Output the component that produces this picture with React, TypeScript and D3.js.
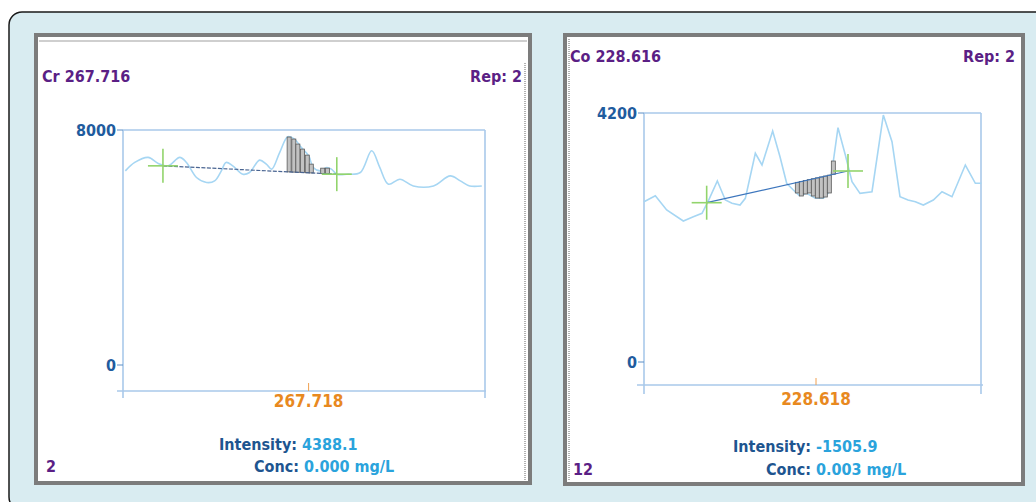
import React, { useRef, useEffect } from 'react';
import * as d3 from 'd3';

// Cr 267.716 scan (wavelength nm, intensity)
const crWavelengths = [267.6907, 267.6921, 267.6941, 267.6956, 267.6971, 267.6988, 267.6998, 267.7013, 267.7028, 267.7040, 267.7050, 267.7057, 267.7067, 267.7082, 267.7092, 267.7107, 267.7117, 267.7125, 267.7137, 267.7149, 267.7159, 267.7169, 267.7180, 267.7187, 267.7197, 267.7207, 267.7214, 267.7222, 267.7237, 267.7257, 267.7274, 267.7286, 267.7299, 267.7316, 267.7336, 267.7366, 267.7391, 267.7406, 267.7420, 267.7438];
const crIntensities = [6609, 6896, 7067, 6862, 6780, 7067, 6896, 6383, 6212, 6267, 6609, 6896, 6780, 6496, 6554, 6975, 6838, 6667, 7238, 7771, 7692, 7409, 7122, 6725, 6609, 6725, 6667, 6496, 6496, 6554, 7293, 6725, 6154, 6325, 6096, 6096, 6438, 6267, 6096, 6096];
const crBaselineWavelengths = [267.6963, 267.7222];
const crBaselineIntensities = [6780, 6496];
const crBarWavelengths = [267.7151, 267.7158, 267.7164, 267.7171, 267.7178, 267.7184, 267.7201, 267.7208];
const crBarIntensities = [7761, 7692, 7521, 7350, 7145, 6838, 6701, 6701];

// Co 228.616 scan
const coWavelengths = [228.5922, 228.5939, 228.5956, 228.5981, 228.5996, 228.6009, 228.6018, 228.6032, 228.6044, 228.6054, 228.6066, 228.6074, 228.6089, 228.6099, 228.6115, 228.6126, 228.6136, 228.6146, 228.6155, 228.6166, 228.6179, 228.6191, 228.6198, 228.6206, 228.6213, 228.6224, 228.6234, 228.6246, 228.6264, 228.6281, 228.6294, 228.6306, 228.6318, 228.6329, 228.6341, 228.6356, 228.6369, 228.6384, 228.6404, 228.6419, 228.6428];
const coIntensities = [2704, 2805, 2564, 2378, 2451, 2508, 2704, 3053, 2732, 2677, 2648, 2761, 3520, 3323, 3896, 3463, 3014, 2901, 2805, 2845, 2761, 2761, 2845, 3390, 3952, 3491, 3041, 2845, 2873, 4166, 3716, 2788, 2732, 2704, 2648, 2732, 2873, 2788, 3323, 3014, 3014];
const coBaselineWavelengths = [228.6016, 228.6228];
const coBaselineIntensities = [2687, 3222];
const coBarWavelengths = [228.6152, 228.6158, 228.6164, 228.6170, 228.6176, 228.6182, 228.6188, 228.6194, 228.6200, 228.6206];
const coBarIntensities = [2851, 2800, 2834, 2851, 2800, 2766, 2766, 2783, 2851, 3390];

// labels
const panelTitles = ['Cr 267.716', 'Co 228.616'];
const repLabels = ['Rep: 2', 'Rep: 2'];
const yMaxValues = [8000, 4200];
const centerWavelengths = [267.718, 228.618];
const wavelengthDomains: [number, number][] = [[267.69035, 267.74428], [228.5922, 228.64275]];
const intensityLabels = ['4388.1', '-1505.9'];
const concLabels = ['0.000 mg/L', '0.003 mg/L'];
const sampleLabels = ['2', '12'];

const FONT = "'DejaVu Sans Condensed', 'DejaVu Sans', sans-serif";

interface PanelLayout {
  frame: [number, number, number, number];
  plot: [number, number, number, number]; // left, right, top, zero
  axisY: number;
  axisX: [number, number];
  tickEnd: number;
  titleX: number;
  titleY: number;
  repX: number;
  yLabelX: number;
  centerTickTop: number;
  centerLabelY: number;
  intensityX: number;
  intensityY: number;
  concX: number;
  concY: number;
  sampleX: number;
  innerTop: boolean;
  dottedX: number;
  smooth: boolean;
  dashedBaseline: boolean;
}

interface Panel {
  title: string;
  rep: string;
  yMax: number;
  center: number;
  domain: [number, number];
  intensity: string;
  conc: string;
  sample: string;
  wavelengths: number[];
  intensities: number[];
  baseWl: number[];
  baseInt: number[];
  barWl: number[];
  barInt: number[];
  layout: PanelLayout;
}

const panels: Panel[] = [
  {
    title: panelTitles[0], rep: repLabels[0], yMax: yMaxValues[0], center: centerWavelengths[0],
    domain: wavelengthDomains[0], intensity: intensityLabels[0], conc: concLabels[0], sample: sampleLabels[0],
    wavelengths: crWavelengths, intensities: crIntensities,
    baseWl: crBaselineWavelengths, baseInt: crBaselineIntensities,
    barWl: crBarWavelengths, barInt: crBarIntensities,
    layout: {
      frame: [36, 35, 530, 483], plot: [123, 485, 130, 365], axisY: 391, axisX: [117, 486], tickEnd: 398,
      titleX: 42, titleY: 82, repX: 522, yLabelX: 116, centerTickTop: 383, centerLabelY: 407,
      intensityX: 219, intensityY: 450, concX: 254, concY: 472, sampleX: 46,
      innerTop: true, dottedX: 525, smooth: true, dashedBaseline: true,
    },
  },
  {
    title: panelTitles[1], rep: repLabels[1], yMax: yMaxValues[1], center: centerWavelengths[1],
    domain: wavelengthDomains[1], intensity: intensityLabels[1], conc: concLabels[1], sample: sampleLabels[1],
    wavelengths: coWavelengths, intensities: coIntensities,
    baseWl: coBaselineWavelengths, baseInt: coBaselineIntensities,
    barWl: coBarWavelengths, barInt: coBarIntensities,
    layout: {
      frame: [565, 35, 1023, 484], plot: [644, 981, 113, 362], axisY: 385, axisX: [637, 983], tickEnd: 394,
      titleX: 570, titleY: 62, repX: 1015, yLabelX: 637, centerTickTop: 378, centerLabelY: 405,
      intensityX: 733, intensityY: 452, concX: 766, concY: 475, sampleX: 573,
      innerTop: false, dottedX: 569, smooth: false, dashedBaseline: false,
    },
  },
];

const drawPanel = (svg: d3.Selection<SVGSVGElement, unknown, null, undefined>, p: Panel) => {
  const L = p.layout;
  const g = svg.append('g');

  // panel frame
  g.append('rect')
    .attr('x', L.frame[0]).attr('y', L.frame[1])
    .attr('width', L.frame[2] - L.frame[0]).attr('height', L.frame[3] - L.frame[1])
    .attr('fill', '#fff').attr('stroke', '#7c7c7c').attr('stroke-width', 4);
  if (L.innerTop) {
    g.append('line').attr('x1', L.frame[0] + 3).attr('x2', L.frame[2] - 3)
      .attr('y1', L.frame[1] + 6).attr('y2', L.frame[1] + 6)
      .attr('stroke', '#cfcfcf').attr('stroke-width', 2);
  }
  g.append('line').attr('x1', L.dottedX).attr('x2', L.dottedX)
    .attr('y1', L.innerTop ? L.frame[1] + 28 : L.frame[1] + 4).attr('y2', L.frame[3] - 3)
    .attr('stroke', '#9a9a9a').attr('stroke-width', 1.5).attr('stroke-dasharray', '1,1');

  const x = d3.scaleLinear().domain(p.domain).range([L.plot[0], L.plot[1]]);
  const y = d3.scaleLinear().domain([0, p.yMax]).range([L.plot[3], L.plot[2]]);
  const frameColor = '#a9c9ea';

  // plot frame
  g.append('line').attr('x1', x(p.domain[0])).attr('x2', x(p.domain[1]))
    .attr('y1', y(p.yMax)).attr('y2', y(p.yMax)).attr('stroke', frameColor).attr('stroke-width', 1.6);
  [p.domain[0], p.domain[1]].forEach(d => {
    g.append('line').attr('x1', x(d)).attr('x2', x(d))
      .attr('y1', y(p.yMax)).attr('y2', L.tickEnd).attr('stroke', frameColor).attr('stroke-width', 1.6);
  });
  g.append('line').attr('x1', L.axisX[0]).attr('x2', L.axisX[1])
    .attr('y1', L.axisY).attr('y2', L.axisY).attr('stroke', frameColor).attr('stroke-width', 1.6);

  // y ticks
  [0, p.yMax].forEach(v => {
    g.append('line').attr('x1', L.yLabelX + 1).attr('x2', x(p.domain[0]))
      .attr('y1', y(v)).attr('y2', y(v)).attr('stroke', '#5b8ec6').attr('stroke-width', 1);
    g.append('text').attr('x', L.yLabelX).attr('y', y(v) + 6)
      .attr('text-anchor', 'end').attr('fill', '#1f5c9e')
      .attr('font-family', FONT).attr('font-weight', 'bold').attr('font-size', 16)
      .text(String(v));
  });

  // center wavelength tick
  g.append('line').attr('x1', x(p.center)).attr('x2', x(p.center))
    .attr('y1', L.centerTickTop).attr('y2', L.axisY).attr('stroke', '#f0a050').attr('stroke-width', 1);
  g.append('text').attr('x', x(p.center)).attr('y', L.centerLabelY)
    .attr('text-anchor', 'middle').attr('fill', '#e8891f')
    .attr('font-family', FONT).attr('font-weight', 'bold').attr('font-size', 17)
    .text(p.center.toFixed(3));

  // spectrum
  const pts = p.wavelengths.map((w, i) => [w, p.intensities[i]] as [number, number]);
  const line = d3.line<[number, number]>()
    .x(d => x(d[0])).y(d => y(d[1]))
    .curve(L.smooth ? d3.curveCatmullRom.alpha(0.5) : d3.curveLinear);
  g.append('path').datum(pts).attr('d', line)
    .attr('fill', 'none').attr('stroke', '#a6d6f3').attr('stroke-width', 1.6);

  // integration bars between baseline and spectrum
  const base = d3.scaleLinear().domain(p.baseWl).range(p.baseInt);
  const spacing = d3.min(d3.pairs(p.barWl), ([a, b]) => b - a) ?? 0.0005;
  const bw = x(p.domain[0] + spacing) - x(p.domain[0]);
  p.barWl.forEach((w, i) => {
    const y0 = y(base(w));
    const y1 = y(p.barInt[i]);
    g.append('rect')
      .attr('x', x(w) - bw / 2).attr('width', bw)
      .attr('y', Math.min(y0, y1)).attr('height', Math.abs(y1 - y0))
      .attr('fill', '#c2c2c2').attr('stroke', '#5a5a5a').attr('stroke-width', 0.8);
  });

  // baseline
  g.append('line')
    .attr('x1', x(p.baseWl[0])).attr('y1', y(p.baseInt[0]))
    .attr('x2', x(p.baseWl[1])).attr('y2', y(p.baseInt[1]))
    .attr('stroke', L.dashedBaseline ? '#4a6592' : '#3d76bd')
    .attr('stroke-width', 1.2)
    .attr('stroke-dasharray', L.dashedBaseline ? '4,1.5' : null);

  // background correction markers
  p.baseWl.forEach((w, i) => {
    const cx = x(w);
    const cy = y(p.baseInt[i]);
    g.append('line').attr('x1', cx - 15).attr('x2', cx + 15).attr('y1', cy).attr('y2', cy)
      .attr('stroke', '#92d46c').attr('stroke-width', 1.6);
    g.append('line').attr('x1', cx).attr('x2', cx).attr('y1', cy - 17).attr('y2', cy + 17)
      .attr('stroke', '#92d46c').attr('stroke-width', 1.6);
  });

  // texts
  const txt = (tx: number, ty: number, anchor = 'start') => g.append('text')
    .attr('x', tx).attr('y', ty).attr('text-anchor', anchor)
    .attr('font-family', FONT).attr('font-weight', 'bold').attr('font-size', 16);

  txt(L.titleX, L.titleY).attr('fill', '#5b1f85').text(p.title);
  txt(L.repX, L.titleY, 'end').attr('fill', '#5b1f85').text(p.rep);

  const inten = txt(L.intensityX, L.intensityY);
  inten.append('tspan').attr('fill', '#1e5590').text('Intensity: ');
  inten.append('tspan').attr('fill', '#2aa3dc').text(p.intensity);

  const conc = txt(L.concX, L.concY);
  conc.append('tspan').attr('fill', '#1e5590').text('Conc: ');
  conc.append('tspan').attr('fill', '#2aa3dc').text(p.conc);

  txt(L.sampleX, L.concY).attr('fill', '#5b1f85').text(p.sample);
};

const App: React.FC = () => {
  const container = useRef<SVGSVGElement | null>(null);

  useEffect(() => {
    if (!container.current) return;
    const svg = d3.select(container.current);
    svg.selectAll('*').remove();

    // rounded light-blue background card
    svg.append('rect')
      .attr('x', 9).attr('y', 12).attr('width', 1070).attr('height', 498).attr('rx', 13)
      .attr('fill', '#d9ecf1').attr('stroke', '#1a1a1a').attr('stroke-width', 1.5);

    panels.forEach(p => drawPanel(svg, p));
  }, []);

  return (
    <svg
      ref={container}
      width={1036}
      height={502}
      style={{ position: 'absolute', left: 0, top: 0, background: '#fff' }}
    />
  );
};

export default App;
